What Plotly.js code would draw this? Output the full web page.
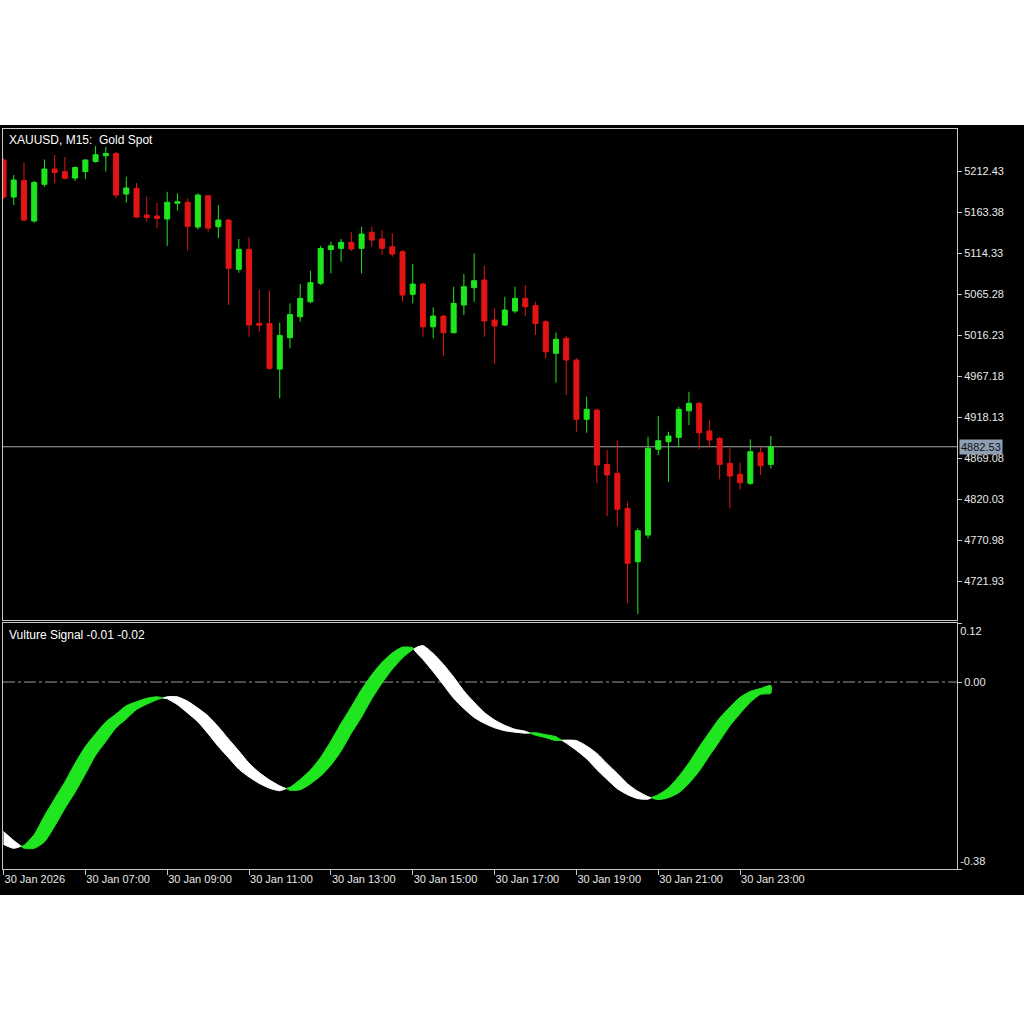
<!DOCTYPE html>
<html><head><meta charset="utf-8">
<script src="https://cdn.plot.ly/plotly-3.0.1.min.js"></script>
<style>html,body{margin:0;padding:0;background:#fff;}#chart{width:1024px;height:1024px;}</style>
</head><body><div id="chart"></div>
<script>
// ---------- DATA ----------
const symbolTitle = "XAUUSD, M15:\u00a0 Gold Spot";
const indicatorName = "Vulture Signal";
// bar index 0..75 (M15 bars)
const timeTickBars = [0, 8, 16, 24, 32, 40, 48, 56, 64, 72];
const timeTickLabels = ["30 Jan 2026", "30 Jan 07:00", "30 Jan 09:00", "30 Jan 11:00", "30 Jan 13:00",
  "30 Jan 15:00", "30 Jan 17:00", "30 Jan 19:00", "30 Jan 21:00", "30 Jan 23:00"];
const priceTicks = [5212.43, 5163.38, 5114.33, 5065.28, 5016.23, 4967.18, 4918.13, 4869.08, 4820.03, 4770.98, 4721.93];

const open = [5225.6, 5181.3, 5201.1, 5152.6, 5196.5, 5214.8, 5211.6, 5204.0, 5211.8, 5223.8,
  5230.7, 5233.4, 5184.9, 5191.7, 5159.8, 5158.6, 5155.0, 5173.8, 5175.0, 5145.4,
  5182.9, 5145.8, 5153.8, 5094.8, 5118.7, 5030.2, 5030.0, 4975.5, 5013.0, 5038.1,
  5056.0, 5078.1, 5118.5, 5119.9, 5127.1, 5119.9, 5139.1, 5131.1, 5121.8, 5115.9,
  5064.9, 5077.2, 5026.1, 5038.9, 5019.0, 5052.1, 5072.8, 5082.0, 5034.2, 5028.2,
  5044.9, 5060.1, 5051.5, 5032.1, 4994.3, 5012.3, 4986.3, 4915.4, 4926.5, 4861.5,
  4850.8, 4808.9, 4745.0, 4776.9, 4879.5, 4888.6, 4893.8, 4925.6, 4934.5, 4901.4,
  4892.6, 4862.7, 4849.6, 4838.8, 4875.4, 4861.5];
const high = [5228.0, 5207.6, 5222.6, 5200.8, 5226.2, 5231.6, 5229.2, 5217.8, 5226.4, 5242.3,
  5241.1, 5235.5, 5205.6, 5198.1, 5181.7, 5174.1, 5187.6, 5185.7, 5179.7, 5185.7,
  5183.7, 5171.8, 5154.6, 5131.1, 5133.1, 5070.4, 5069.2, 5030.9, 5054.1, 5077.2,
  5093.1, 5123.0, 5127.8, 5131.1, 5139.1, 5145.8, 5145.8, 5141.8, 5137.9, 5117.9,
  5101.1, 5078.8, 5049.3, 5040.1, 5074.0, 5089.2, 5113.9, 5098.8, 5048.1, 5062.0,
  5074.0, 5076.0, 5056.0, 5034.2, 5019.0, 5015.0, 4988.7, 4942.4, 4928.3, 4878.6,
  4889.8, 4816.8, 4785.0, 4894.5, 4919.3, 4900.5, 4930.4, 4948.4, 4936.0, 4914.5,
  4894.5, 4880.7, 4863.4, 4891.4, 4882.6, 4895.4];
const low = [5178.9, 5171.8, 5152.0, 5150.6, 5193.6, 5197.7, 5202.3, 5200.5, 5202.9, 5222.4,
  5211.8, 5180.1, 5174.7, 5156.2, 5151.8, 5144.2, 5122.7, 5165.2, 5117.3, 5142.7,
  5140.0, 5132.2, 5052.1, 5090.7, 5014.2, 5020.2, 4974.3, 4940.5, 5000.3, 5032.1,
  5054.1, 5076.0, 5090.0, 5103.9, 5116.7, 5090.0, 5121.8, 5111.9, 5109.9, 5056.0,
  5054.1, 5014.2, 5012.3, 4991.1, 5018.2, 5040.1, 5056.0, 5014.2, 4981.5, 5027.0,
  5042.2, 5038.9, 5016.2, 4988.3, 4959.1, 4944.4, 4900.5, 4899.3, 4838.8, 4799.7,
  4787.7, 4695.2, 4682.4, 4773.0, 4872.6, 4840.7, 4881.9, 4908.5, 4879.5, 4881.9,
  4843.6, 4808.9, 4831.6, 4836.8, 4848.7, 4856.7];
const close = [5181.3, 5201.7, 5153.8, 5198.7, 5214.8, 5210.6, 5203.7, 5216.6, 5225.6, 5231.9,
  5233.4, 5183.7, 5192.1, 5157.4, 5156.8, 5155.6, 5175.0, 5175.7, 5146.0, 5183.7,
  5144.2, 5153.8, 5096.0, 5118.7, 5028.2, 5027.8, 4976.4, 5015.8, 5040.7, 5060.1,
  5078.8, 5119.7, 5123.0, 5127.1, 5119.1, 5137.0, 5129.9, 5119.9, 5113.1, 5064.1,
  5077.2, 5026.1, 5038.9, 5019.0, 5054.1, 5074.0, 5081.2, 5033.0, 5027.0, 5046.1,
  5060.1, 5050.1, 5030.0, 4996.2, 5011.1, 4986.3, 4915.4, 4927.3, 4860.7, 4848.7,
  4807.7, 4743.1, 4782.1, 4880.7, 4889.8, 4895.4, 4927.3, 4934.5, 4899.3, 4890.6,
  4861.5, 4847.5, 4839.5, 4876.6, 4859.9, 4882.53];

// indicator buffers
const signalFast = [-0.330, -0.338, -0.332, -0.310, -0.272, -0.237, -0.203, -0.165, -0.131, -0.105,
  -0.081, -0.065, -0.048, -0.040, -0.033, -0.030, -0.034, -0.046, -0.063, -0.081,
  -0.105, -0.131, -0.154, -0.177, -0.193, -0.206, -0.216, -0.221, -0.214, -0.198,
  -0.179, -0.153, -0.120, -0.084, -0.050, -0.015, 0.015, 0.040, 0.059, 0.071,
  0.070, 0.046, 0.021, -0.006, -0.033, -0.054, -0.072, -0.084, -0.093, -0.099,
  -0.102, -0.104, -0.103, -0.107, -0.111, -0.124, -0.139, -0.156, -0.178, -0.198,
  -0.217, -0.229, -0.237, -0.238, -0.229, -0.215, -0.192, -0.164, -0.132, -0.102,
  -0.073, -0.051, -0.031, -0.019, -0.013, -0.007];
const signalSlow = [-0.304, -0.322, -0.338, -0.338, -0.325, -0.293, -0.257, -0.224, -0.187, -0.149,
  -0.121, -0.093, -0.075, -0.056, -0.045, -0.036, -0.030, -0.030, -0.039, -0.053,
  -0.069, -0.091, -0.116, -0.140, -0.165, -0.184, -0.199, -0.211, -0.220, -0.219,
  -0.207, -0.191, -0.169, -0.140, -0.104, -0.071, -0.034, -0.002, 0.026, 0.049,
  0.066, 0.074, 0.058, 0.036, 0.010, -0.018, -0.041, -0.062, -0.077, -0.088,
  -0.096, -0.100, -0.108, -0.113, -0.119, -0.118, -0.119, -0.130, -0.145, -0.166,
  -0.186, -0.207, -0.222, -0.233, -0.239, -0.235, -0.225, -0.206, -0.181, -0.150,
  -0.120, -0.089, -0.064, -0.041, -0.025, -0.023];
const indTicks = {top: 0.12, mid: 0.00, bottom: -0.38};

// ---------- STYLE ----------
const W = 1024, H = 1024;
const GREEN = '#1fe61f', RED = '#e31414', WHITE = '#ffffff', FRAME = '#c8c8c8', TXT = '#e8e8e8';
const xRange = [-0.05, 93.2];
const bars = open.map((_, i) => i);
const lastPrice = close[close.length - 1];

// band segments coloured by sign of (fast - slow)
function bandSegments(a, b) {
  const segs = [];
  let cur = null;
  for (let i = 0; i < a.length; i++) {
    const s = (a[i] - b[i]) >= 0 ? 1 : -1;
    if (!cur) { cur = {s, xs: [i], ya: [a[i]], yb: [b[i]]}; continue; }
    if (s === cur.s) { cur.xs.push(i); cur.ya.push(a[i]); cur.yb.push(b[i]); }
    else {
      const d0 = a[i-1] - b[i-1], d1 = a[i] - b[i];
      const t = d0 / (d0 - d1);
      const xc = i - 1 + t, yc = a[i-1] + t * (a[i] - a[i-1]);
      cur.xs.push(xc); cur.ya.push(yc); cur.yb.push(yc);
      segs.push(cur);
      cur = {s, xs: [xc, i], ya: [yc, a[i]], yb: [yc, b[i]]};
    }
  }
  segs.push(cur);
  return segs;
}

const traces = [{
  type: 'candlestick', x: bars, open: open, high: high, low: low, close: close,
  xaxis: 'x', yaxis: 'y',
  increasing: {line: {color: GREEN, width: 1}, fillcolor: GREEN},
  decreasing: {line: {color: RED, width: 1}, fillcolor: RED},
  whiskerwidth: 0, hoverinfo: 'skip'
}];

const segs = bandSegments(signalFast, signalSlow);
segs.forEach((sg, k) => {
  const col = sg.s > 0 ? GREEN : WHITE;
  // first / last segment sit on the overlay axes that carry the 0.12 / -0.38 labels (same range)
  const ya = k === 0 ? 'y3' : (k === segs.length - 1 ? 'y4' : 'y2');
  traces.push({
    type: 'scatter', mode: 'lines', xaxis: 'x2', yaxis: ya,
    x: sg.xs.concat(sg.xs.slice().reverse()),
    y: sg.ya.concat(sg.yb.slice().reverse()),
    fill: 'toself', fillcolor: col, line: {color: col, width: 1, shape: 'spline', smoothing: 0.6}, hoverinfo: 'skip'
  });
});

const tickFont = {family: 'Liberation Sans, Arial, sans-serif', size: 11, color: TXT};
const baseAxis = {showgrid: false, zeroline: false, showline: true, mirror: true, linecolor: FRAME, linewidth: 1, fixedrange: true};
const indRange = [indTicks.bottom, indTicks.top];

const layout = {
  width: W, height: H, margin: {l: 0, r: 0, t: 0, b: 0},
  paper_bgcolor: '#ffffff', plot_bgcolor: '#000000', showlegend: false,
  font: {family: 'Liberation Sans, Arial, sans-serif', size: 11, color: TXT},
  xaxis: Object.assign({}, baseAxis, {domain: [3/W, 957/W], range: xRange, anchor: 'y',
    showticklabels: false, ticks: '', rangeslider: {visible: false}}),
  yaxis: Object.assign({}, baseAxis, {domain: [1 - 620/H, 1 - 129/H], range: [4675.3, 5262.7],
    side: 'right', anchor: 'x', tickvals: priceTicks, ticktext: priceTicks.map(v => v.toFixed(2)),
    ticks: 'outside', ticklen: 4, tickcolor: FRAME, tickfont: tickFont}),
  xaxis2: Object.assign({}, baseAxis, {domain: [3/W, 957/W], range: xRange, anchor: 'y2',
    tickvals: timeTickBars, ticktext: timeTickLabels, ticks: 'outside', ticklen: 5, tickcolor: FRAME,
    ticklabelposition: 'outside right', tickfont: tickFont}),
  yaxis2: Object.assign({}, baseAxis, {domain: [1 - 869/H, 1 - 623/H], range: indRange,
    side: 'right', anchor: 'x2', tickvals: [indTicks.mid], ticktext: [indTicks.mid.toFixed(2)],
    ticks: 'outside', ticklen: 4, tickcolor: FRAME, tickfont: tickFont}),
  yaxis3: {overlaying: 'y2', anchor: 'x2', side: 'right', range: indRange,
    showgrid: false, zeroline: false, showline: false, tickvals: [indTicks.top], ticktext: [indTicks.top.toFixed(2)],
    ticks: 'outside', ticklen: 4, tickcolor: FRAME, ticklabelposition: 'outside bottom', tickfont: tickFont, fixedrange: true},
  yaxis4: {overlaying: 'y2', anchor: 'x2', side: 'right', range: indRange,
    showgrid: false, zeroline: false, showline: false, tickvals: [indTicks.bottom], ticktext: [indTicks.bottom.toFixed(2)],
    ticks: 'outside', ticklen: 4, tickcolor: FRAME, ticklabelposition: 'outside top', tickfont: tickFont, fixedrange: true},
  shapes: [
    {type: 'rect', xref: 'paper', yref: 'paper', x0: 0, x1: 1, y0: 1 - 895/H, y1: 1 - 125/H,
      fillcolor: '#000000', line: {width: 0}, layer: 'below'},
    {type: 'line', xref: 'x', yref: 'y', x0: xRange[0], x1: xRange[1], y0: lastPrice, y1: lastPrice,
      line: {color: '#a8a8a8', width: 1}, layer: 'below'},
    {type: 'line', xref: 'x2', yref: 'y2', x0: xRange[0], x1: xRange[1], y0: indTicks.mid, y1: indTicks.mid,
      line: {color: '#9a9a9a', width: 1, dash: '12px,3px,3px,3px'}, layer: 'below'}
  ],
  annotations: [
    {xref: 'paper', yref: 'paper', x: 7/W, y: 1 - 140/H, xanchor: 'left', yanchor: 'middle',
      text: symbolTitle, showarrow: false, font: {size: 12, color: '#ffffff'}},
    {xref: 'paper', yref: 'paper', x: 7/W, y: 1 - 635/H, xanchor: 'left', yanchor: 'middle',
      text: indicatorName + ' ' + signalFast[signalFast.length-1].toFixed(2) + ' ' + signalSlow[signalSlow.length-1].toFixed(2),
      showarrow: false, font: {size: 12, color: '#ffffff'}},
    {xref: 'paper', yref: 'y', x: 959/W, y: lastPrice, xanchor: 'left', yanchor: 'middle',
      text: lastPrice.toFixed(2), showarrow: false, bgcolor: '#8fa0b4', borderpad: 1,
      font: {size: 11, color: '#101010'}}
  ]
};

Plotly.newPlot('chart', traces, layout, {staticPlot: true, displayModeBar: false});
</script></body></html>
